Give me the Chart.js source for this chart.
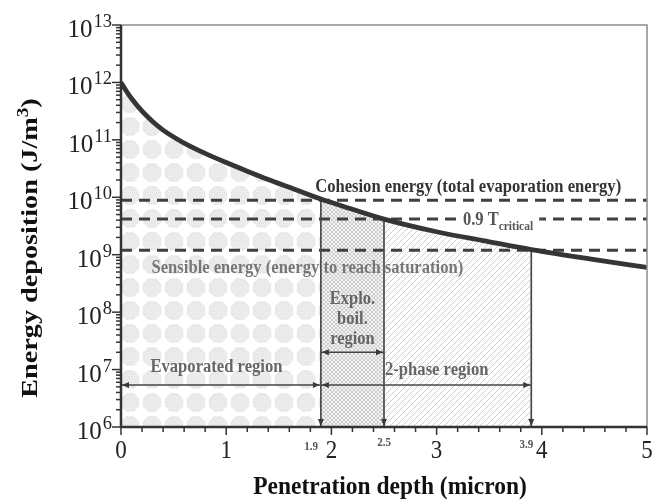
<!DOCTYPE html>
<html>
<head>
<meta charset="utf-8">
<script src="https://cdn.jsdelivr.net/npm/chart.js"></script>
<style>
  body { margin: 0; background: #fff; }
  #wrap { width: 652px; height: 500px; }
</style>
</head>
<body>
<div id="wrap"><canvas id="energyChart" width="652" height="500"></canvas></div>
<script>
// Energy deposition profile
const depth  = [0, 0.05, 0.1, 0.2, 0.3, 0.4, 0.5, 0.6, 0.8, 1.0, 1.2, 1.4, 1.6, 1.9, 2.2, 2.5, 3.0, 3.5, 3.9, 4.5, 5.0];
const energy = [1.0e12, 7.08e11, 5.25e11, 3.16e11, 2.09e11, 1.48e11, 1.12e11, 8.81e10, 5.82e10, 4.03e10, 2.85e10, 2.04e10, 1.49e10,
                9.3e9, 6.17e9, 4.17e9, 2.51e9, 1.68e9, 1.23e9, 8.22e8, 6.0e8];

// reference levels (horizontal dashed lines)
const levelNames  = ['Cohesion energy (total evaporation energy)', '0.9 T', 'Sensible energy (energy to reach saturation)'];
const levelValues = [8.9e9, 4.2e9, 1.2e9];

// region boundaries (vertical arrows) and their labels
const boundaries     = [1.9, 2.5, 3.9];
const boundaryLabels = ['1.9', '2.5', '3.9'];
const regionNames    = ['Evaporated region', '2-phase region', 'Explo.\nboil.\nregion'];
const regionSpans    = [[0, 1.9], [1.9, 3.9], [1.9, 2.5]];
const regionLevels   = [5.4e6, 5.4e6, 2.0e7];

// axes
const xTicks = [0, 1, 2, 3, 4, 5];
const xMinorStep = 0.2;
const yExponents = [6, 7, 8, 9, 10, 11, 12, 13];

const FONT = "'Liberation Serif', 'Times New Roman', serif";
const SY = 1.15; // the figure's lettering is a bit taller than wide

function makePattern(kind) {
    const c = document.createElement('canvas');
    const g = c.getContext('2d');
    let shift = 0;
    if (kind === 'blob') {
        c.width = 22; c.height = 23;
        const cx = 11, cy = 11.5, r = 9.2, k = 0.42;
        g.fillStyle = '#e8e8e8';
        g.beginPath();
        g.moveTo(cx - r * k, cy - r); g.lineTo(cx + r * k, cy - r);
        g.lineTo(cx + r, cy - r * k); g.lineTo(cx + r, cy + r * k);
        g.lineTo(cx + r * k, cy + r); g.lineTo(cx - r * k, cy + r);
        g.lineTo(cx - r, cy + r * k); g.lineTo(cx - r, cy - r * k);
        g.closePath();
        g.fill();
        g.fillStyle = '#f3f3f3';
        for (let yy = 3; yy < 21; yy += 2) {
            for (let xx = 3 + (yy % 4 === 1 ? 1 : 0); xx < 20; xx += 2) {
                if ((xx - cx) ** 2 + (yy - cy) ** 2 < 60) g.fillRect(xx, yy, 1, 1);
            }
        }
        shift = 9;
    } else if (kind === 'cross') {
        c.width = 4; c.height = 4;
        g.fillStyle = '#f4f4f4';
        g.fillRect(0, 0, 4, 4);
        g.strokeStyle = '#c2c2c2';
        g.lineWidth = 0.8;
        g.beginPath();
        g.moveTo(0, 0); g.lineTo(4, 4);
        g.moveTo(0, 4); g.lineTo(4, 0);
        g.stroke();
    } else {
        c.width = 6; c.height = 6;
        g.strokeStyle = '#cdcdcd';
        g.lineWidth = 1;
        g.beginPath();
        g.moveTo(0, 6); g.lineTo(6, 0);
        g.moveTo(-1, 1); g.lineTo(1, -1);
        g.moveTo(5, 7); g.lineTo(7, 5);
        g.stroke();
    }
    const pat = g.createPattern(c, 'repeat');
    if (shift && pat.setTransform) pat.setTransform(new DOMMatrix().translate(shift, 0));
    return pat;
}

function pointsBetween(x0, x1) {
    const pts = [];
    for (let i = 0; i < depth.length; i++) {
        if (depth[i] >= x0 - 1e-9 && depth[i] <= x1 + 1e-9) pts.push({ x: depth[i], y: energy[i] });
    }
    return pts;
}

const curvePts = depth.map((d, i) => ({ x: d, y: energy[i] }));
const datasets = [];

// index 0 is drawn last (on top)
datasets.push({
    label: 'Energy deposition',
    data: curvePts,
    borderColor: '#353535',
    borderWidth: 4.8,
    pointRadius: 0,
    cubicInterpolationMode: 'monotone',
    fill: false
});

boundaries.forEach((b, i) => {
    datasets.push({
        label: 'boundary ' + boundaryLabels[i],
        data: [{ x: b, y: levelValues[i] }, { x: b, y: 1e6 }],
        borderColor: '#4a4a4a',
        borderWidth: 1.7,
        pointRadius: 0,
        fill: false,
        arrow: 'end'
    });
});

regionSpans.forEach((s, i) => {
    datasets.push({
        label: 'span ' + i,
        data: [{ x: s[0], y: regionLevels[i] }, { x: s[1], y: regionLevels[i] }],
        borderColor: '#444',
        borderWidth: 1.4,
        pointRadius: 0,
        fill: false,
        arrow: 'both'
    });
});

levelValues.forEach((v, i) => {
    datasets.push({
        label: 'level ' + i,
        data: [{ x: 0, y: v }, { x: 5, y: v }],
        borderColor: '#404040',
        borderWidth: 3,
        borderDash: [11, 7],
        pointRadius: 0,
        fill: false
    });
});

// region fills under the curve
const fillDefs = [
    { span: [0, 1.9], kind: 'blob' },
    { span: [1.9, 2.5], kind: 'cross' },
    { span: [2.5, 3.9], kind: 'diag' }
];
fillDefs.forEach(f => {
    datasets.push({
        label: 'fill ' + f.kind,
        data: pointsBetween(f.span[0], f.span[1]),
        borderWidth: 0,
        borderColor: 'rgba(0,0,0,0)',
        backgroundColor: makePattern(f.kind),
        pointRadius: 0,
        cubicInterpolationMode: 'monotone',
        fill: 'start'
    });
});

function arrowHead(ctx, x, y, dx, dy) {
    const len = 7, half = 3;
    ctx.beginPath();
    ctx.moveTo(x, y);
    ctx.lineTo(x - dx * len - dy * half, y - dy * len + dx * half);
    ctx.lineTo(x - dx * len + dy * half, y - dy * len - dx * half);
    ctx.closePath();
    ctx.fill();
}

function measureParts(ctx, parts) {
    let total = 0;
    parts.forEach(p => { ctx.font = (p[4] || 'bold') + ' ' + p[1] + 'px ' + FONT; total += ctx.measureText(p[0]).width; });
    return total;
}

// parts: [text, size, dy, color, weight]
function drawMixed(ctx, parts, x, y, align, sy) {
    const total = measureParts(ctx, parts);
    let cx = align === 'center' ? -total / 2 : (align === 'right' ? -total : 0);
    ctx.save();
    ctx.translate(x, y);
    ctx.scale(1, sy || SY);
    ctx.textAlign = 'left';
    parts.forEach(p => {
        ctx.font = (p[4] || 'bold') + ' ' + p[1] + 'px ' + FONT;
        if (p[3]) ctx.fillStyle = p[3];
        ctx.fillText(p[0], cx, p[2]);
        cx += ctx.measureText(p[0]).width;
    });
    ctx.restore();
    return total;
}

const decorations = {
    id: 'decorations',
    afterDatasetsDraw(chart) {
        const { ctx, chartArea: a, scales: { x, y } } = chart;
        ctx.save();

        // arrow heads on boundary and span lines
        ctx.fillStyle = '#3a3a3a';
        chart.data.datasets.forEach((ds, i) => {
            if (!ds.arrow) return;
            const pts = chart.getDatasetMeta(i).data;
            const p0 = pts[0], p1 = pts[pts.length - 1];
            const L = Math.hypot(p1.x - p0.x, p1.y - p0.y);
            const dx = (p1.x - p0.x) / L, dy = (p1.y - p0.y) / L;
            arrowHead(ctx, p1.x - dx, p1.y - dy, dx, dy);
            if (ds.arrow === 'both') arrowHead(ctx, p0.x + dx, p0.y + dy, -dx, -dy);
        });

        // frame
        ctx.strokeStyle = '#8c8c8c';
        ctx.lineWidth = 1.5;
        ctx.beginPath();
        ctx.moveTo(a.left, a.top); ctx.lineTo(a.right, a.top); ctx.lineTo(a.right, a.bottom);
        ctx.stroke();
        ctx.strokeStyle = '#333';
        ctx.lineWidth = 2.5;
        ctx.beginPath();
        ctx.moveTo(a.left, a.top); ctx.lineTo(a.left, a.bottom); ctx.lineTo(a.right, a.bottom);
        ctx.stroke();

        // ticks
        ctx.lineWidth = 1.5;
        yExponents.forEach((e, k) => {
            const py = y.getPixelForValue(Math.pow(10, e));
            ctx.beginPath(); ctx.moveTo(a.left - 9, py); ctx.lineTo(a.left, py); ctx.stroke();
            if (k < yExponents.length - 1) {
                for (let m = 2; m <= 9; m++) {
                    const pm = y.getPixelForValue(m * Math.pow(10, e));
                    ctx.beginPath(); ctx.moveTo(a.left - 5, pm); ctx.lineTo(a.left, pm); ctx.stroke();
                }
            }
        });
        for (let v = 0; v <= 5 + 1e-9; v += xMinorStep) {
            const px = x.getPixelForValue(v);
            const major = Math.abs(v - Math.round(v)) < 1e-6;
            ctx.beginPath(); ctx.moveTo(px, a.bottom); ctx.lineTo(px, a.bottom + (major ? 8 : 5)); ctx.stroke();
        }

        // tick labels
        ctx.fillStyle = '#222';
        ctx.textBaseline = 'alphabetic';
        yExponents.forEach(e => {
            const py = y.getPixelForValue(Math.pow(10, e));
            const ew = measureParts(ctx, [[String(e), 18.5, 0, '', 'normal']]);
            drawMixed(ctx, [[String(e), 18.5, 0, '#222', 'normal']], 112 - ew, py + 2, 'left', 1.0);
            drawMixed(ctx, [['10', 25, 0, '#222', 'normal']], 111 - ew, py + 12, 'right', 1.0);
        });
        xTicks.forEach(v => {
            drawMixed(ctx, [[String(v), 23, 0, '#222', 'normal']], x.getPixelForValue(v), a.bottom + 31, 'center', 1.05);
        });

        // boundary values under the axis
        const bc = '#555';
        drawMixed(ctx, [[boundaryLabels[0], 11, 0, bc]], x.getPixelForValue(boundaries[0]) - 3, a.bottom + 23, 'right', 1.1);
        drawMixed(ctx, [[boundaryLabels[1], 11, 0, bc]], x.getPixelForValue(boundaries[1]), a.bottom + 19, 'center', 1.1);
        drawMixed(ctx, [[boundaryLabels[2], 11, 0, bc]], x.getPixelForValue(boundaries[2]) + 2, a.bottom + 21, 'right', 1.1);

        // level labels
        const yl0 = y.getPixelForValue(levelValues[0]);
        drawMixed(ctx, [[levelNames[0], 16.6, 0, '#333']], x.getPixelForValue(3.3), yl0 - 8, 'center');

        const yl1 = y.getPixelForValue(levelValues[1]);
        const tx = x.getPixelForValue(3.25);
        const tParts = [[levelNames[1], 16.5, 0, '#555'], ['critical', 11.5, 4, '#555']];
        const tw = measureParts(ctx, tParts);
        ctx.fillStyle = '#fff';
        ctx.fillRect(tx - 6, yl1 - 9, tw + 12, 19);
        drawMixed(ctx, tParts, tx, yl1 + 6, 'left');
        ctx.fillStyle = '#555';
        ctx.fillRect(tx + tw + 7, yl1 - 1, 2, 2);

        const yl2 = y.getPixelForValue(levelValues[2]);
        drawMixed(ctx, [[levelNames[2], 16.6, 0, '#777']], x.getPixelForValue(0.29), yl2 + 23, 'left');

        // region labels
        drawMixed(ctx, [[regionNames[0], 16.6, 0, '#666']], x.getPixelForValue(0.28), y.getPixelForValue(regionLevels[0]) - 13, 'left');
        drawMixed(ctx, [[regionNames[1], 16.6, 0, '#666']], x.getPixelForValue(2.51), y.getPixelForValue(regionLevels[1]) - 10, 'left');
        const lines = regionNames[2].split('\n');
        const ex = (x.getPixelForValue(regionSpans[2][0]) + x.getPixelForValue(regionSpans[2][1])) / 2;
        const ey = y.getPixelForValue(regionLevels[2]);
        lines.forEach((ln, k) => {
            drawMixed(ctx, [[ln, 16.5, 0, '#666']], ex, ey - 48 + k * 20, 'center');
        });

        // axis titles
        drawMixed(ctx, [['Penetration depth (micron)', 23.5, 0, '#111']], (a.left + a.right) / 2 + 6, 494, 'center', 1.1);
        ctx.translate(37, (a.top + a.bottom) / 2 + 22);
        ctx.scale(1, 1.2);
        ctx.rotate(-Math.PI / 2);
        drawMixed(ctx, [['Energy deposition (J/m', 23.5, 0, '#111'], ['3', 16, -9, '#111'], [')', 23.5, 0, '#111']], 0, 0, 'center', 1.0);

        ctx.restore();
    }
};

new Chart(document.getElementById('energyChart'), {
    type: 'line',
    data: { datasets: datasets },
    plugins: [decorations],
    options: {
        responsive: false,
        animation: false,
        layout: { padding: { top: 25, right: 5, left: 0, bottom: 0 } },
        plugins: {
            legend: { display: false },
            tooltip: { enabled: false }
        },
        scales: {
            x: {
                type: 'linear',
                min: 0,
                max: 5,
                grid: { display: false },
                border: { display: false },
                ticks: { display: false },
                afterFit(scale) { scale.height = 73; }
            },
            y: {
                type: 'logarithmic',
                min: 1e6,
                max: 1e13,
                grid: { display: false },
                border: { display: false },
                ticks: { display: false },
                afterFit(scale) { scale.width = 121; }
            }
        }
    }
});
</script>
</body>
</html>
